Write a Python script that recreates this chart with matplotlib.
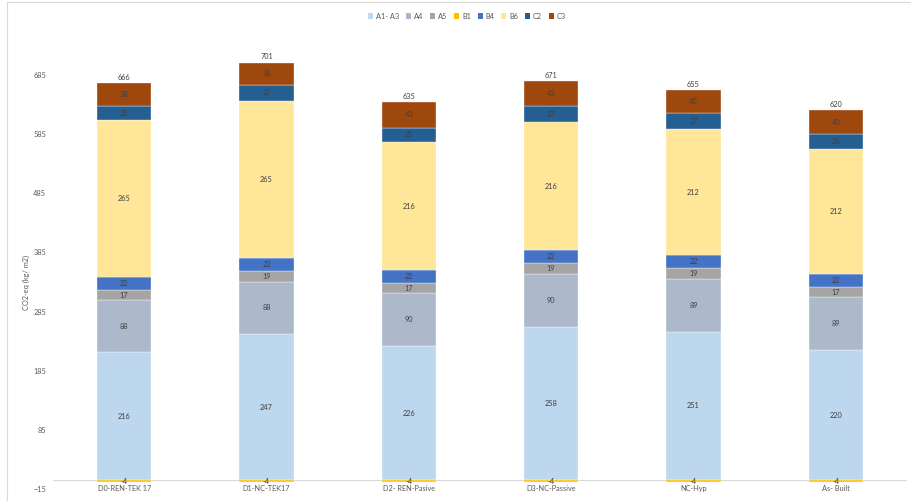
import numpy as np
import matplotlib
matplotlib.use("Agg")
import matplotlib.pyplot as plt
from matplotlib.patches import Patch
from matplotlib.lines import Line2D

plt.rcParams['font.family'] = ['Lato', 'DejaVu Sans']

cases = ['D0-REN-TEK 17', 'D1-NC-TEK17', 'D2- REN-Pasive', 'D3-NC-Passive', 'NC-Hyp', 'As- Built']
stages = ['A1- A3', 'A4', 'A5', 'B1', 'B4', 'B6', 'C2', 'C3']

a1_a3 = [216, 247, 226, 258, 251, 220]
a4 = [88, 88, 90, 90, 89, 89]
a5 = [17, 19, 17, 19, 19, 17]
b1 = [-4, -4, -4, -4, -4, -4]
b4 = [22, 22, 22, 22, 22, 22]
b6 = [265, 265, 216, 216, 212, 212]
c2 = [25, 27, 25, 27, 27, 25]
c3 = [38, 38, 43, 43, 40, 40]
totals = [666, 701, 635, 671, 655, 620]

yticks = [-15, 85, 185, 285, 385, 485, 585, 685]

colors = ['#BDD7EE', '#ADB9CA', '#A5A5A5', '#FFC000', '#4472C4', '#FFE699', '#255E91', '#9E480E']
series = [a1_a3, a4, a5, b1, b4, b6, c2, c3]

fs = 5.3

fig = plt.figure(figsize=(9.12, 5.01), dpi=100)
ax = fig.add_axes([0.0581, 0.024, 0.9364, 0.915])

x = np.arange(len(cases))
width = 0.38
pos_bottom = np.zeros(len(cases))
neg_bottom = np.zeros(len(cases))

for name, vals, col in zip(stages, series, colors):
    vals = np.array(vals, dtype=float)
    bottom = np.where(vals >= 0, pos_bottom, neg_bottom)
    ax.bar(x, vals, width, bottom=bottom, color=col, edgecolor='white', linewidth=0.25, zorder=3)
    for xi, b, v in zip(x, bottom, vals):
        ax.text(xi, b + v / 2, f'{int(v)}', ha='center', va='center', fontsize=fs, color='#404040', zorder=4)
    pos_bottom = pos_bottom + np.where(vals >= 0, vals, 0)
    neg_bottom = neg_bottom + np.where(vals < 0, vals, 0)

# totals over each stack
for xi, top, t in zip(x, pos_bottom, totals):
    ax.annotate(f'{t}', (xi, top), xytext=(0, 1.5), textcoords='offset points',
                ha='center', va='bottom', fontsize=fs, color='#404040')

ax.set_xlim(-0.5, len(cases) - 0.5)
ax.set_ylim(-15, 760)
ax.axhline(0, color='#D9D9D9', linewidth=0.8, zorder=2)

for s in ax.spines.values():
    s.set_visible(False)
ax.set_xticks([])
ax.set_yticks(yticks)
ax.tick_params(axis='y', length=0, pad=5, labelsize=fs, labelcolor='#595959')

for xi, c in zip(x, cases):
    ax.text(xi, -15, c, ha='center', va='center', fontsize=fs, color='#595959')

ax.set_ylabel('CO2-eq (kg/ m2)', fontsize=fs, color='#595959')
ax.yaxis.set_label_coords(-0.027, 0.45)

handles = [Patch(facecolor=c, edgecolor='none') for c in colors]
fig.legend(handles, stages, loc='upper center', bbox_to_anchor=(0.512, 0.988), ncol=8,
           frameon=False, fontsize=fs, handlelength=0.7, handleheight=0.7,
           handletextpad=0.4, columnspacing=0.9, labelcolor='#595959')

# chart border
fig.add_artist(Line2D([0.0077, 0.0077], [0, 0.996], transform=fig.transFigure, color='#D9D9D9', linewidth=0.8))
fig.add_artist(Line2D([0.0077, 1], [0.996, 0.996], transform=fig.transFigure, color='#D9D9D9', linewidth=0.8))

fig.savefig('out.png', dpi=100)
